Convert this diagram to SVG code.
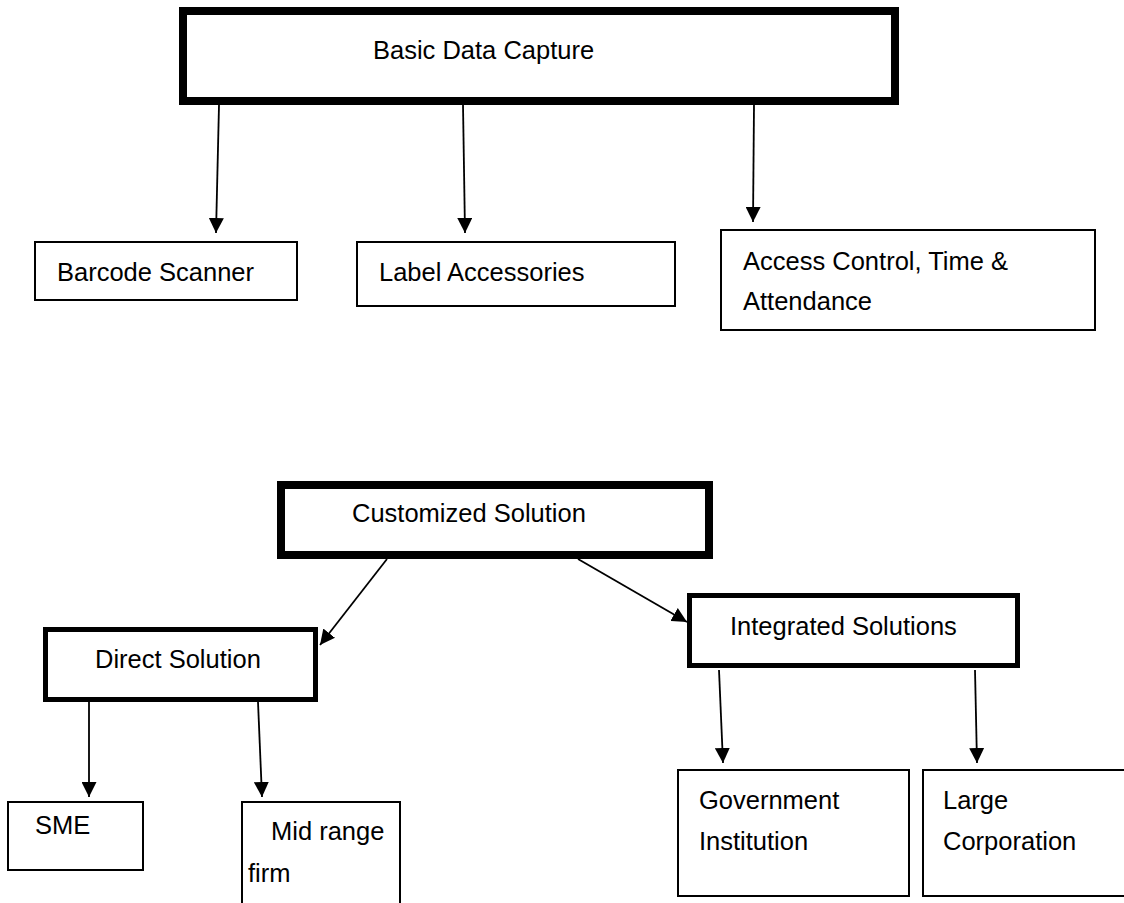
<svg xmlns="http://www.w3.org/2000/svg" width="1124" height="903" viewBox="0 0 1124 903">
<style>
rect{fill:#fff;stroke:#000}
.thick{stroke-width:8}
.med{stroke-width:5}
.thin{stroke-width:2}
text{font-family:"Liberation Sans",Arial,sans-serif;font-size:25.5px;fill:#000}
.conn line{stroke:#000;stroke-width:1.8;marker-end:url(#ah)}
</style>
<defs>
<marker id="ah" markerUnits="userSpaceOnUse" markerWidth="15" markerHeight="15" refX="15" refY="7.5" orient="auto" viewBox="0 0 15 15">
<path d="M0,0 L15,7.5 L0,15 z" fill="#000"/>
</marker>
</defs>
<rect width="1124" height="903" style="fill:#fff;stroke:none"/>
<g id="connectors" class="conn">
<line x1="219" y1="105" x2="216" y2="233"/>
<line x1="463" y1="105" x2="465" y2="233"/>
<line x1="754" y1="105" x2="753" y2="222"/>
<line x1="387" y1="559" x2="320" y2="645"/>
<line x1="578" y1="559" x2="687" y2="622"/>
<line x1="89" y1="702" x2="89" y2="797"/>
<line x1="258" y1="702" x2="262" y2="797"/>
<line x1="719" y1="670" x2="723" y2="763"/>
<line x1="975" y1="670" x2="977" y2="763"/>
</g>
<g id="basic">
<rect class="thick" x="183" y="11" width="712" height="90"/>
<text x="373" y="59">Basic Data Capture</text>
</g>
<g id="barcode">
<rect class="thin" x="35" y="242" width="262" height="58"/>
<text x="57" y="281">Barcode Scanner</text>
</g>
<g id="label">
<rect class="thin" x="357" y="242" width="318" height="64"/>
<text x="379" y="281">Label Accessories</text>
</g>
<g id="access">
<rect class="thin" x="721" y="230" width="374" height="100"/>
<text x="743" y="270">Access Control, Time &amp;</text>
<text x="743" y="310">Attendance</text>
</g>
<g id="customized">
<rect class="thick" x="281" y="485" width="428" height="70"/>
<text x="352" y="522">Customized Solution</text>
</g>
<g id="direct">
<rect class="med" x="45.5" y="629.5" width="270" height="70"/>
<text x="95" y="668">Direct Solution</text>
</g>
<g id="integrated">
<rect class="med" x="689.5" y="595.5" width="328" height="70"/>
<text x="730" y="635">Integrated Solutions</text>
</g>
<g id="sme">
<rect class="thin" x="8" y="802" width="135" height="68"/>
<text x="35" y="834">SME</text>
</g>
<g id="midrange">
<rect class="thin" x="242" y="802" width="158" height="120"/>
<text x="271" y="840">Mid range</text>
<text x="248" y="882">firm</text>
</g>
<g id="government">
<rect class="thin" x="678" y="770" width="231" height="126"/>
<text x="699" y="809">Government</text>
<text x="699" y="850">Institution</text>
</g>
<g id="large">
<rect class="thin" x="923" y="770" width="220" height="126"/>
<text x="943" y="809">Large</text>
<text x="943" y="850">Corporation</text>
</g>
</svg>
